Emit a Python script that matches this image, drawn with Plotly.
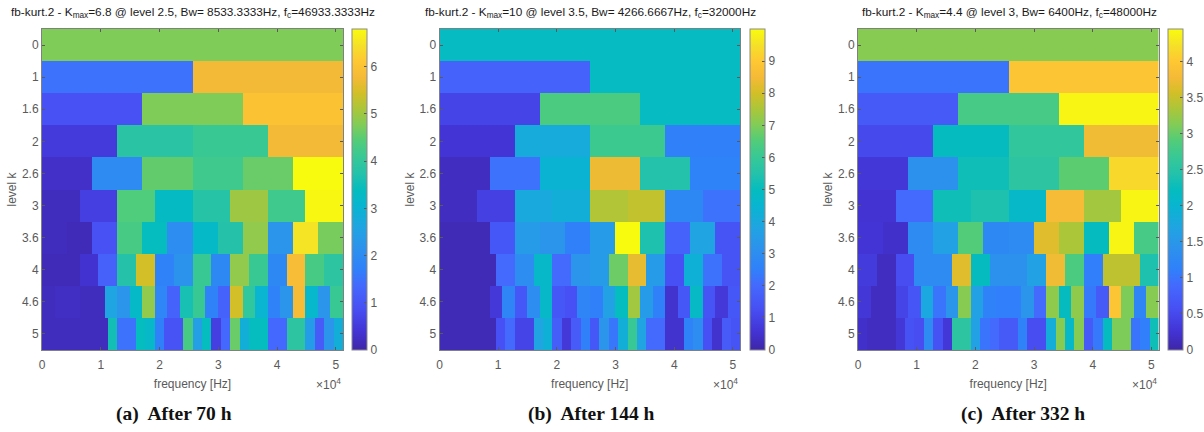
import numpy as np
import plotly.graph_objects as go

W, H = 1204, 432
level_labels = ["0", "1", "1.6", "2", "2.6", "3", "3.6", "4", "4.6", "5"]
freq_ticks = [0, 10000, 20000, 30000, 40000, 50000]
freq_labels = ["0", "1", "2", "3", "4", "5"]
freq_max = 51200

kurt_a = [
    [4.75],
    [1.5, 5.75],
    [0.9, 4.75, 6.0],
    [0.5, 3.85, 4.1, 5.75],
    [0.3, 2.0, 4.55, 4.2, 4.6, 6.8],
    [.2, .6, 4.4, 3.3, 3.8, 5.0, 4.2, 6.75],
    [.2, .15, .9, 4.3, 3.4, 2.05, 3.25, 3.75, 4.9, 2.25, 6.5, 4.7],
    [.15, .15, .35, 1.2, 3.75, 5.45, 1.75, 2.2, 4.1, 1.9, 4.9, 4.1, 1.9, 5.85, 4.3, 3.9],
    [.2, .25, .25, .2, .2, 2.6, 2.25, 3.25, 4.9, 1.85, 1.25, 3.6, 4.1, 1.75, 1.25, 5.45, 3.95, 3.05, 1.75, 2.25, 5.8, 3.15, 2.25, 4.1],
    [.2, .2, .2, .2, .2, .2, .2, 3.55, 1.5, 1.5, 3.4, 3.2, 1.7, .95, .95, 4.3, 2.45, 3.4, .6, 1.35, 4.6, 2.85, 3.4, 3.4, 1.35, 1.35, 3.9, 3.9, 2.4, 1.1, 2.25, 2.85],
]
kurt_b = [
    [4.9],
    [1.8, 4.9],
    [1.0, 6.4, 4.9],
    [.6, 4.1, 6.1, 2.5],
    [.3, 2.2, 4.4, 8.4, 5.5, 2.6],
    [.3, .9, 4.0, 4.2, 7.6, 7.8, 2.8, 2.2],
    [.2, .2, 1.5, 3.5, 3.3, 2.5, 3.5, 10, 5.4, 1.8, 3.8, 1.4],
    [.2, .2, .2, 2.0, 3.0, 4.7, 2.0, 3.3, 3.5, 6.8, 8.3, 3.5, 1.3, 4.3, 2.2, 1.4],
    [.2, .2, .2, .2, .7, 2.7, 1.5, 3.0, 4.7, 1.5, 1.3, 2.7, 2.5, 3.7, 5.0, 7.4, 3.5, 2.5, .5, 1.5, 4.8, 1.4, .7, 1.5],
    [.2, .2, .2, .2, .2, .2, 1.3, 2.0, 1.0, 1.0, 3.8, 4.3, 1.7, .7, 1.6, 2.5, 1.5, 3.3, 2.3, 4.2, 6.0, 3.8, 2.0, 2.0, .5, .5, 2.6, 3.0, 1.3, .5, 1.6, 1.4],
]
kurt_c = [
    [3.15],
    [1.0, 3.95],
    [.7, 2.8, 4.4],
    [.5, 2.2, 2.6, 3.75],
    [.3, 1.4, 2.3, 2.55, 2.95, 4.15],
    [.25, .9, 2.3, 2.4, 2.1, 3.8, 3.3, 4.4],
    [.27, .2, 1.3, 1.65, 2.9, 1.25, 1.3, 3.65, 3.35, 2.2, 4.4, 2.8],
    [.35, .15, .55, 1.3, 1.3, 3.65, 2.2, 1.4, 1.4, 1.65, 3.75, 2.85, 1.1, 3.45, 3.45, 2.4],
    [.3, .15, .15, .45, .65, 1.75, 1.0, 1.45, 3.15, 1.65, 1.15, 1.1, 1.1, 1.45, .9, 3.2, 2.2, 3.2, 1.05, .7, 3.95, 3.1, 1.2, 3.15],
    [.2, .15, .15, .15, .3, .6, .55, 1.3, .6, .3, 2.55, 2.55, 1.65, 1.0, .9, .7, .7, 1.15, .55, .55, 1.85, 3.15, 2.1, 3.15, .7, 1.05, 2.2, 3.1, 3.1, 1.0, 1.1, 2.3],
]

titles = [
    "fb-kurt.2 - K<sub>max</sub>=6.8 @ level 2.5, Bw= 8533.3333Hz, f<sub>c</sub>=46933.3333Hz",
    "fb-kurt.2 - K<sub>max</sub>=10 @ level 3.5, Bw= 4266.6667Hz, f<sub>c</sub>=32000Hz",
    "fb-kurt.2 - K<sub>max</sub>=4.4 @ level 3, Bw= 6400Hz, f<sub>c</sub>=48000Hz",
]
captions = ["(a)  After 70 h", "(b)  After 144 h", "(c)  After 332 h"]
zmaxes = [6.8, 10, 4.45]
cbar_ticks = [
    [0, 1, 2, 3, 4, 5, 6],
    [0, 1, 2, 3, 4, 5, 6, 7, 8, 9],
    [0, .5, 1, 1.5, 2, 2.5, 3, 3.5, 4],
]
cbar_labels = [
    ["0", "1", "2", "3", "4", "5", "6"],
    ["0", "1", "2", "3", "4", "5", "6", "7", "8", "9"],
    ["0", "0.5", "1", "1.5", "2", "2.5", "3", "3.5", "4"],
]
parula = [
    [0.00, "rgb(62,38,168)"], [0.06, "rgb(67,52,213)"], [0.13, "rgb(71,80,244)"],
    [0.20, "rgb(68,105,253)"], [0.25, "rgb(48,128,250)"], [0.32, "rgb(44,146,236)"],
    [0.38, "rgb(32,164,226)"], [0.45, "rgb(8,181,208)"], [0.50, "rgb(5,188,190)"],
    [0.55, "rgb(36,194,170)"], [0.60, "rgb(55,200,150)"], [0.65, "rgb(80,204,122)"],
    [0.70, "rgb(128,204,88)"], [0.75, "rgb(170,198,58)"], [0.80, "rgb(210,191,39)"],
    [0.85, "rgb(245,186,55)"], [0.90, "rgb(254,200,50)"], [0.95, "rgb(245,225,40)"],
    [1.00, "rgb(249,251,14)"],
]

GREY = "#5a5a5a"
plot_x = [(42, 343), (439.5, 740), (858, 1158.5)]
cbar_x = [(352, 367), (749.5, 764.5), (1168, 1183)]
plot_top, plot_bot = 29, 350
title_cx = [193, 590, 1009]
caption_cx = [174, 591, 1023]
series = [kurt_a, kurt_b, kurt_c]


def expand(rows):
    return np.array([np.repeat(r, 96 // len(r)) for r in rows], dtype=float)


fig = go.Figure()
annotations = []
for i, rows in enumerate(series):
    suffix = "" if i == 0 else str(i + 1)
    fig.add_trace(go.Heatmap(
        z=expand(rows),
        x=np.linspace(0, freq_max, 97),
        y=np.arange(11) - 0.5,
        zmin=0, zmax=zmaxes[i], colorscale=parula, zsmooth=False,
        xaxis="x" + suffix, yaxis="y" + suffix,
        colorbar=dict(
            x=cbar_x[i][0] / W, xanchor="left", xpad=0, ypad=0,
            y=1 - plot_top / H, yanchor="top",
            lenmode="pixels", len=plot_bot - plot_top,
            thicknessmode="pixels", thickness=cbar_x[i][1] - cbar_x[i][0],
            tickvals=cbar_ticks[i], ticktext=cbar_labels[i],
            ticks="inside", ticklen=3, tickcolor=GREY, tickwidth=1,
            outlinecolor="#8a8a8a", outlinewidth=1,
            tickfont=dict(family="Liberation Sans", size=12, color=GREY),
        ),
    ))
    axis = dict(
        domain=[plot_x[i][0] / W, plot_x[i][1] / W], range=[0, freq_max],
        tickvals=freq_ticks, ticktext=freq_labels, ticks="inside", ticklen=3,
        tickcolor=GREY, showline=True, linecolor="#808080", mirror="ticks",
        showgrid=False, zeroline=False, anchor="y" + suffix, ticklabelstandoff=4,
        tickfont=dict(family="Liberation Sans", size=12, color=GREY),
        title=dict(text="frequency [Hz]", standoff=8,
                   font=dict(family="Liberation Sans", size=12, color=GREY)),
    )
    yaxis = dict(
        domain=[1 - plot_bot / H, 1 - plot_top / H], range=[9.5, -0.5],
        tickvals=list(range(10)), ticktext=level_labels, ticks="inside", ticklen=3,
        tickcolor=GREY, showline=True, linecolor="#808080", mirror="ticks",
        showgrid=False, zeroline=False, anchor="x" + suffix,
        tickfont=dict(family="Liberation Sans", size=12, color=GREY),
        title=dict(text="level k", standoff=2,
                   font=dict(family="Liberation Sans", size=12, color=GREY)),
    )
    fig.update_layout({"xaxis" + suffix: axis, "yaxis" + suffix: yaxis})
    annotations.append(dict(
        text=titles[i], xref="paper", yref="paper", showarrow=False,
        x=title_cx[i] / W, y=1 - 13 / H, xanchor="center", yanchor="middle",
        font=dict(family="Liberation Sans", size=11.8, color="#1a1a1a"),
    ))
    annotations.append(dict(
        text="<b>" + captions[i] + "</b>", xref="paper", yref="paper", showarrow=False,
        x=caption_cx[i] / W, y=1 - 414 / H, xanchor="center", yanchor="middle",
        font=dict(family="Liberation Serif", size=19.5, color="#111111"),
    ))
    annotations.append(dict(
        text="×10<sup>4</sup>", xref="paper", yref="paper", showarrow=False,
        x=plot_x[i][1] / W, y=1 - 384 / H, xanchor="right", yanchor="middle",
        font=dict(family="Liberation Sans", size=12, color=GREY),
    ))

fig.update_layout(
    width=W, height=H, autosize=False,
    margin=dict(l=0, r=0, t=0, b=0, autoexpand=False),
    paper_bgcolor="white", plot_bgcolor="white",
    annotations=annotations, showlegend=False,
)
fig.write_html("out.html", post_script="document.body.style.margin='0';", config=dict(displayModeBar=False))
